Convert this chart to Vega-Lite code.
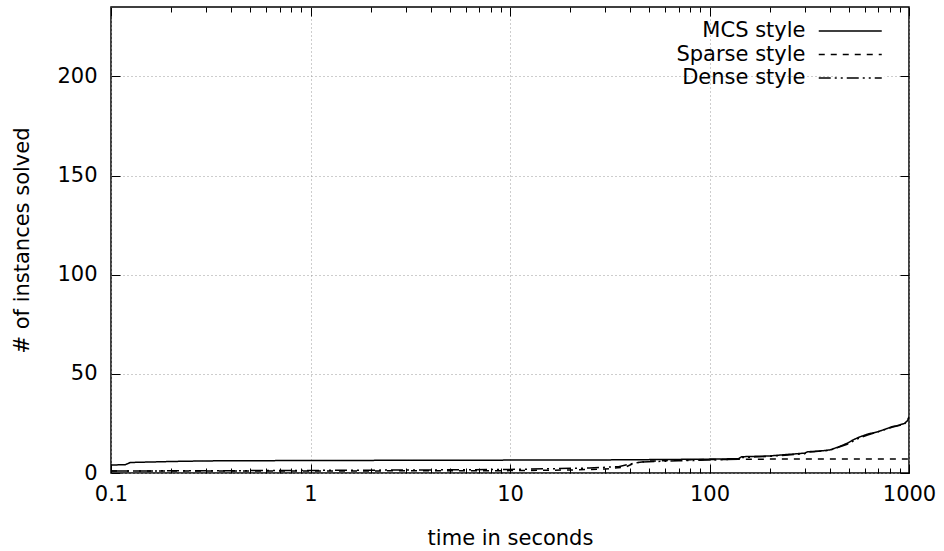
{
  "$schema": "https://vega.github.io/schema/vega-lite/v6.json",
  "width": 798,
  "height": 466,
  "autosize": "none",
  "padding": {"left": 111, "top": 7, "right": 35, "bottom": 78},
  "background": "white",
  "config": {
    "view": {"stroke": "black", "strokeWidth": 1.5},
    "font": "DejaVu Sans",
    "axis": {
      "labelFont": "DejaVu Sans", "labelFontSize": 21, "labelColor": "black",
      "titleFont": "DejaVu Sans", "titleFontSize": 21, "titleFontWeight": "normal", "titleColor": "black",
      "ticks": true, "tickColor": "black", "tickWidth": 1, "tickOpacity": 1, "domainColor": "black", "domainWidth": 1.5,
      "gridColor": "#9a9a9a", "gridDash": [1, 3], "gridWidth": 1,
      "labelFlush": false, "labelOverlap": false
    }
  },
  "data": {
    "values": [
      {"s": "MCS style", "t": 0.1, "v": 4},
      {"s": "MCS style", "t": 0.118, "v": 4.2},
      {"s": "MCS style", "t": 0.125, "v": 5.3},
      {"s": "MCS style", "t": 0.2, "v": 5.8},
      {"s": "MCS style", "t": 0.3, "v": 6.1},
      {"s": "MCS style", "t": 0.5, "v": 6.2},
      {"s": "MCS style", "t": 1, "v": 6.3},
      {"s": "MCS style", "t": 3, "v": 6.4},
      {"s": "MCS style", "t": 10, "v": 6.5},
      {"s": "MCS style", "t": 30, "v": 6.6},
      {"s": "MCS style", "t": 60, "v": 6.8},
      {"s": "MCS style", "t": 100, "v": 7},
      {"s": "MCS style", "t": 140, "v": 7.2},
      {"s": "MCS style", "t": 145, "v": 8.2},
      {"s": "MCS style", "t": 200, "v": 8.6},
      {"s": "MCS style", "t": 280, "v": 9.8},
      {"s": "MCS style", "t": 300, "v": 10},
      {"s": "MCS style", "t": 310, "v": 10.7},
      {"s": "MCS style", "t": 350, "v": 11},
      {"s": "MCS style", "t": 400, "v": 11.6},
      {"s": "MCS style", "t": 440, "v": 13},
      {"s": "MCS style", "t": 490, "v": 15},
      {"s": "MCS style", "t": 520, "v": 16.5},
      {"s": "MCS style", "t": 560, "v": 18},
      {"s": "MCS style", "t": 620, "v": 19.6},
      {"s": "MCS style", "t": 700, "v": 20.8},
      {"s": "MCS style", "t": 820, "v": 23.3},
      {"s": "MCS style", "t": 880, "v": 24},
      {"s": "MCS style", "t": 950, "v": 25},
      {"s": "MCS style", "t": 985, "v": 26.5},
      {"s": "MCS style", "t": 1000, "v": 28.4},
      {"s": "Sparse style", "t": 0.1, "v": 1},
      {"s": "Sparse style", "t": 1, "v": 1},
      {"s": "Sparse style", "t": 10, "v": 1.2},
      {"s": "Sparse style", "t": 20, "v": 1.5},
      {"s": "Sparse style", "t": 30, "v": 2},
      {"s": "Sparse style", "t": 38, "v": 3},
      {"s": "Sparse style", "t": 42, "v": 5},
      {"s": "Sparse style", "t": 50, "v": 6},
      {"s": "Sparse style", "t": 70, "v": 6.5},
      {"s": "Sparse style", "t": 100, "v": 6.8},
      {"s": "Sparse style", "t": 200, "v": 7},
      {"s": "Sparse style", "t": 1000, "v": 7},
      {"s": "Dense style", "t": 0.1, "v": 1},
      {"s": "Dense style", "t": 0.5, "v": 1.2},
      {"s": "Dense style", "t": 1, "v": 1.3},
      {"s": "Dense style", "t": 5, "v": 1.6},
      {"s": "Dense style", "t": 10, "v": 1.8},
      {"s": "Dense style", "t": 25, "v": 2.5},
      {"s": "Dense style", "t": 35, "v": 3.2},
      {"s": "Dense style", "t": 40, "v": 4.5},
      {"s": "Dense style", "t": 45, "v": 5.5},
      {"s": "Dense style", "t": 70, "v": 6.2},
      {"s": "Dense style", "t": 100, "v": 6.5},
      {"s": "Dense style", "t": 140, "v": 7},
      {"s": "Dense style", "t": 145, "v": 7.8},
      {"s": "Dense style", "t": 200, "v": 8.4},
      {"s": "Dense style", "t": 300, "v": 9.7},
      {"s": "Dense style", "t": 310, "v": 10.5},
      {"s": "Dense style", "t": 400, "v": 11.4},
      {"s": "Dense style", "t": 490, "v": 14.5},
      {"s": "Dense style", "t": 560, "v": 17.5},
      {"s": "Dense style", "t": 620, "v": 19.2},
      {"s": "Dense style", "t": 820, "v": 23},
      {"s": "Dense style", "t": 950, "v": 24.7},
      {"s": "Dense style", "t": 1000, "v": 28}
    ]
  },
  "layer": [
    {
      "mark": {"type": "line", "strokeWidth": 1.5, "color": "black", "clip": true},
      "encoding": {
        "x": {
          "field": "t", "type": "quantitative",
          "scale": {"type": "log", "domain": [0.1, 1000], "nice": false},
          "axis": {
            "orient": "bottom",
            "values": [0.1, 0.2, 0.3, 0.4, 0.5, 0.6, 0.7, 0.8, 0.9, 1, 2, 3, 4, 5, 6, 7, 8, 9, 10, 20, 30, 40, 50, 60, 70, 80, 90, 100, 200, 300, 400, 500, 600, 700, 800, 900, 1000],
            "labelExpr": "abs(log(datum.value)/LN10 - round(log(datum.value)/LN10)) < 0.001 ? format(datum.value, '~g') : ''",
            "ticks": true,
            "tickSize": {"condition": {"test": "abs(log(datum.value)/LN10 - round(log(datum.value)/LN10)) < 0.001", "value": -9}, "value": -5},
            "gridOpacity": {"condition": {"test": "abs(log(datum.value)/LN10 - round(log(datum.value)/LN10)) < 0.001", "value": 1}, "value": 0},
            "domain": false, "labelPadding": 19, "grid": true, "title": "time in seconds", "titlePadding": 19
          }
        },
        "y": {
          "field": "v", "type": "quantitative",
          "scale": {"domain": [0, 235], "nice": false},
          "axis": {"orient": "left", "values": [0, 50, 100, 150, 200], "ticks": true, "tickSize": -9, "domain": false, "labelPadding": 23, "grid": true, "title": "# of instances solved", "titlePadding": 24}
        },
        "strokeDash": {
          "field": "s", "type": "nominal",
          "scale": {"domain": ["MCS style", "Sparse style", "Dense style"], "range": [[1, 0], [6, 6], [12, 4, 2, 4, 2, 4]]},
          "legend": {
            "title": null, "orient": "none", "legendX": 727.75, "legendY": 12.5,
            "symbolType": "M-3,0H3", "symbolSize": 441, "rowPadding": 1.5,
            "labelFontSize": 21, "labelFont": "DejaVu Sans", "labelColor": "black",
            "labelAlign": "right", "labelOffset": -56.25,
            "symbolStrokeColor": "black", "symbolStrokeWidth": 1.5, "symbolFillColor": "transparent",
            "fillColor": "white", "padding": 0
          }
        }
      }
    },
    {
      "mark": {"type": "point", "opacity": 0},
      "encoding": {
        "x": {"field": "t", "type": "quantitative", "scale": {"type": "log", "domain": [0.1, 1000], "nice": false},
          "axis": {
            "orient": "top",
            "values": [0.1, 0.2, 0.3, 0.4, 0.5, 0.6, 0.7, 0.8, 0.9, 1, 2, 3, 4, 5, 6, 7, 8, 9, 10, 20, 30, 40, 50, 60, 70, 80, 90, 100, 200, 300, 400, 500, 600, 700, 800, 900, 1000],
            "labels": false, "ticks": true,
            "tickSize": {"condition": {"test": "abs(log(datum.value)/LN10 - round(log(datum.value)/LN10)) < 0.001", "value": -9}, "value": -5},
            "grid": false, "title": null, "domain": false}},
        "y": {"field": "v", "type": "quantitative", "scale": {"domain": [0, 235], "nice": false},
          "axis": {"orient": "right", "values": [0, 50, 100, 150, 200], "labels": false, "ticks": true, "tickSize": -9, "grid": false, "title": null, "domain": false}}
      }
    }
  ],
  "resolve": {"axis": {"x": "independent", "y": "independent"}}
}
